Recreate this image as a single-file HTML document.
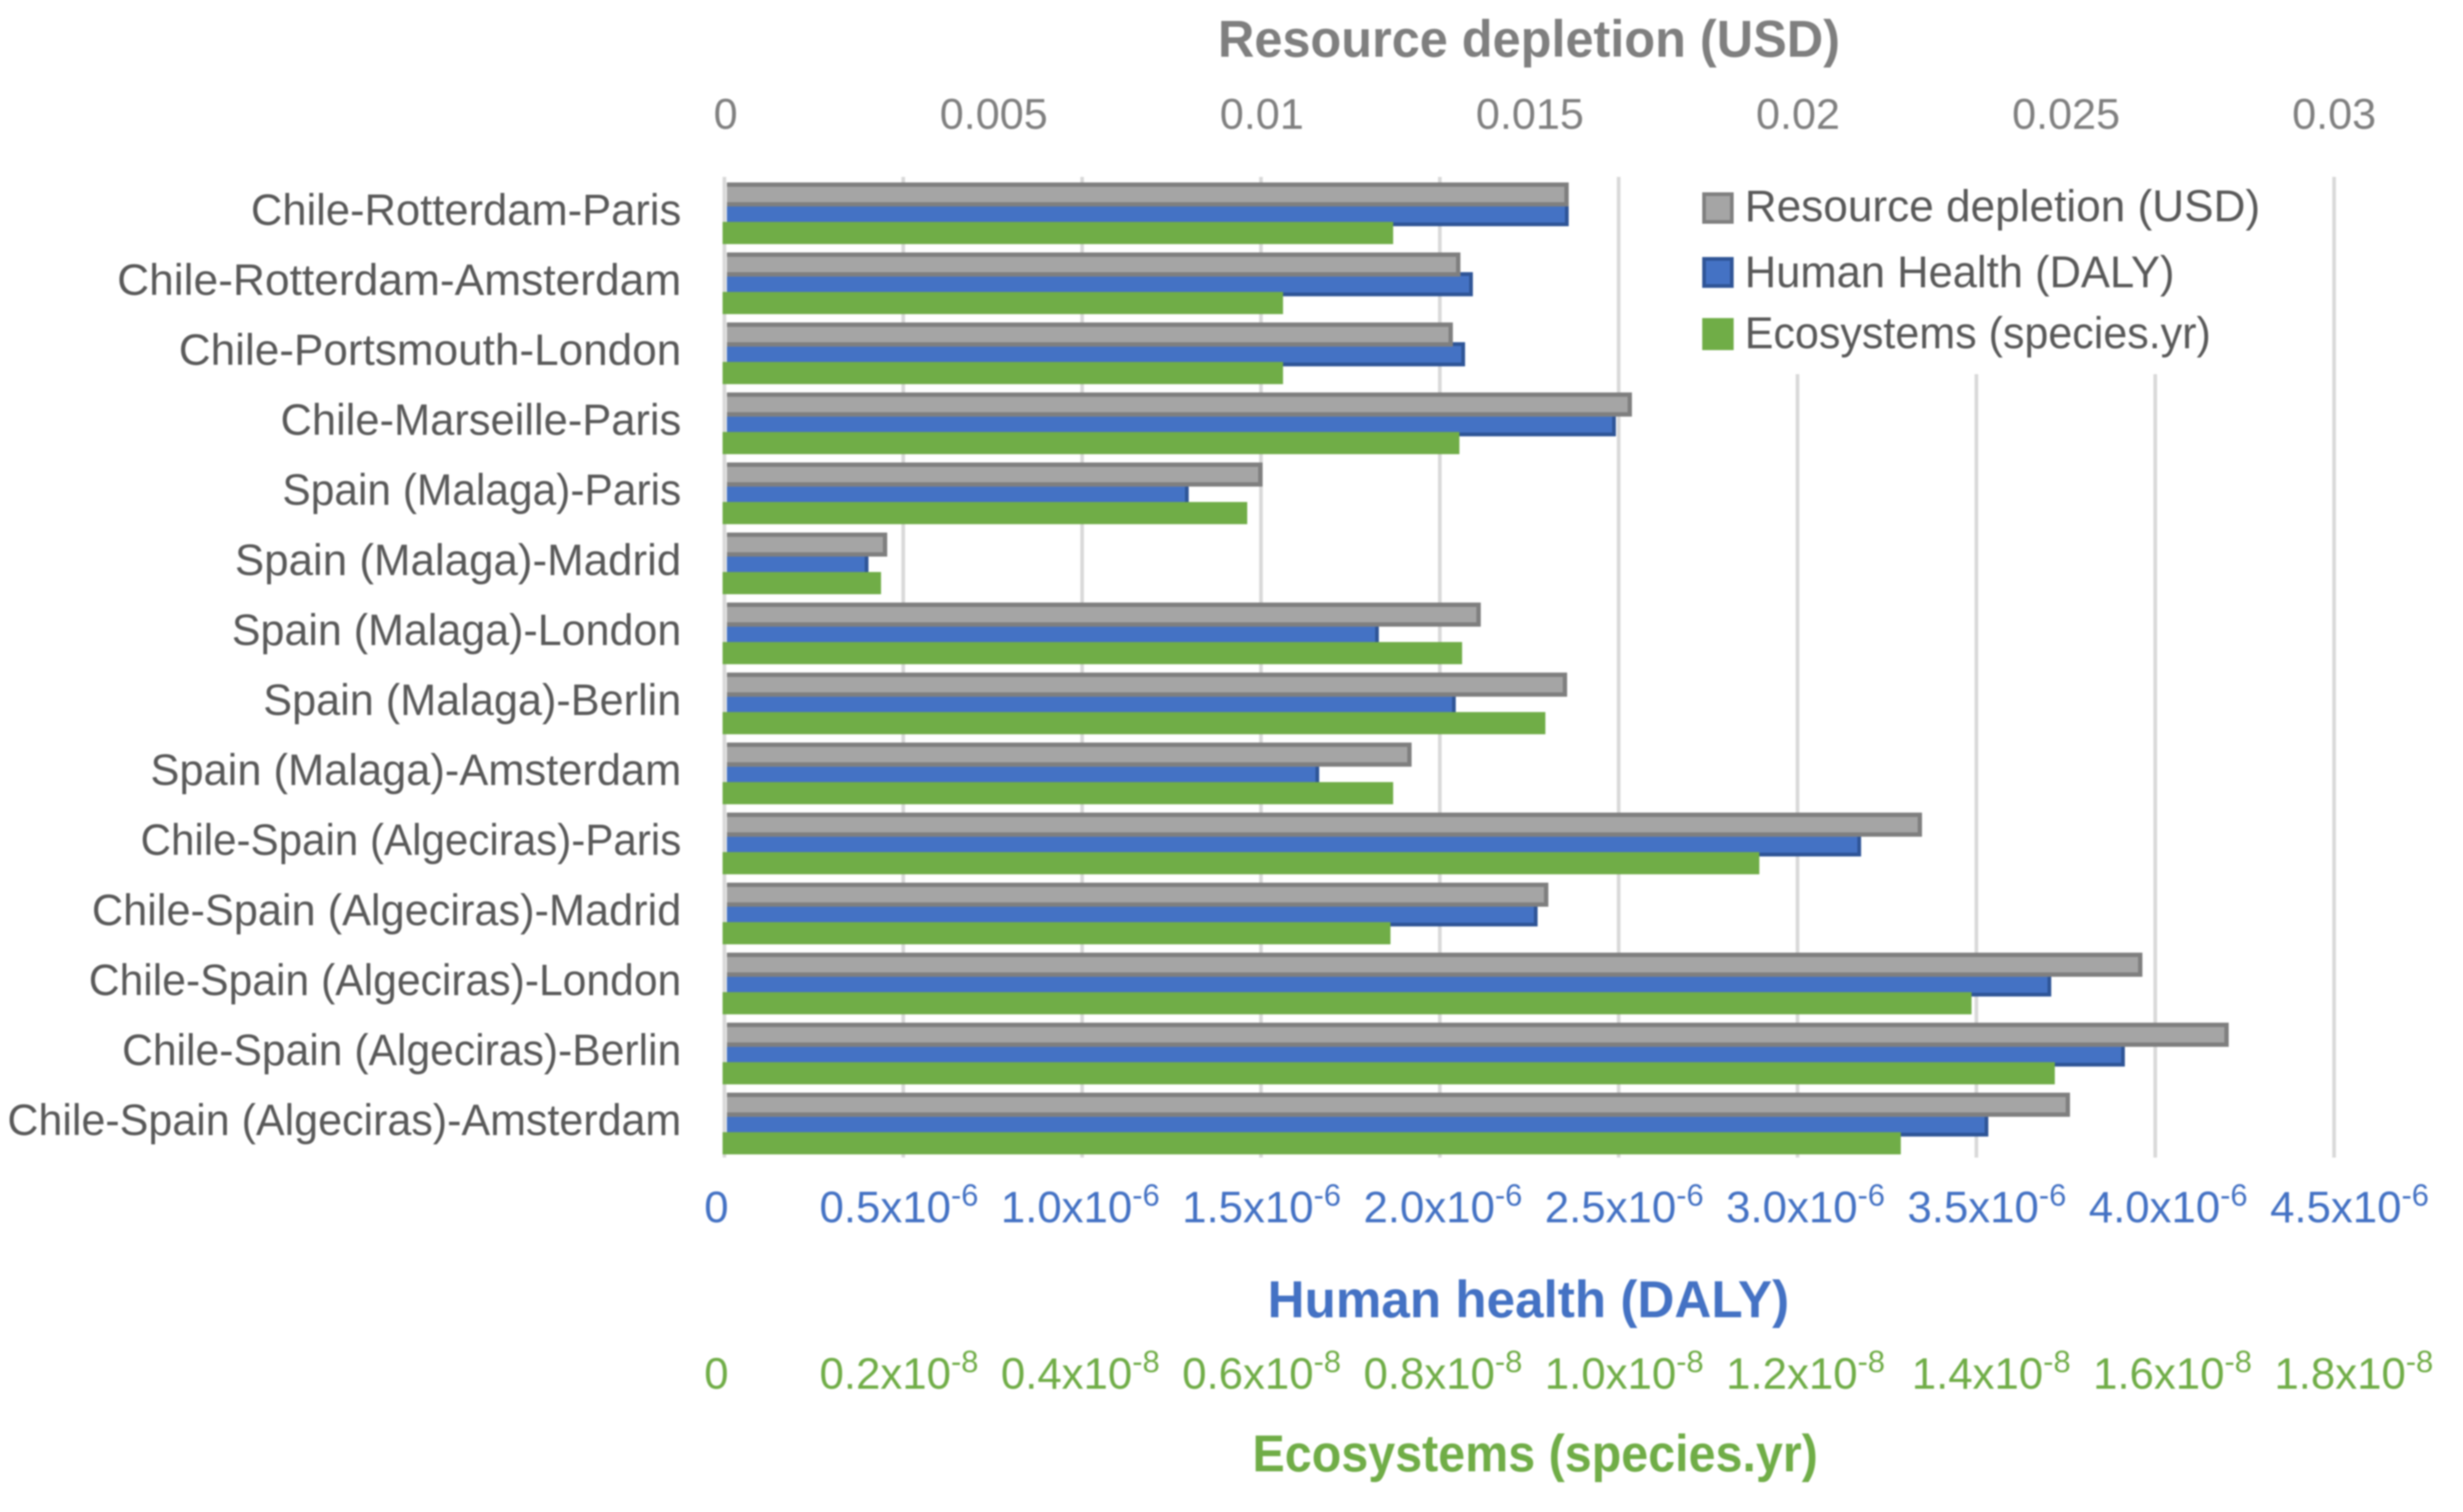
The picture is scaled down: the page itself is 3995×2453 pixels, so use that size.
<!DOCTYPE html>
<html lang="en">
<head>
<meta charset="utf-8">
<title>Resource depletion, human health and ecosystems by route</title>
<style>
  html, body { margin: 0; padding: 0; background: #ffffff; }
  body { width: 3995px; height: 2453px; overflow: hidden; }
  svg { display: block; font-family: "Liberation Sans", sans-serif; filter: blur(1.2px); }
</style>
</head>
<body>
<svg id="chart" xmlns="http://www.w3.org/2000/svg" width="3995" height="2453" viewBox="0 0 3995 2453">
  <rect x="0" y="0" width="3995" height="2453" fill="#ffffff"/>
  <g id="grid"></g>
  <g id="bars"></g>
  <g id="categories"></g>
  <g id="topTicks"></g>
  <g id="humanTicks"></g>
  <g id="ecoTicks"></g>

  <text x="2480" y="92" text-anchor="middle" font-size="84" font-weight="700" fill="#7f7f7f" textLength="1009" lengthAdjust="spacingAndGlyphs">Resource depletion (USD)</text>
  <text x="2479" y="2137" text-anchor="middle" font-size="84" font-weight="700" fill="#4472c4" textLength="846" lengthAdjust="spacingAndGlyphs">Human health (DALY)</text>
  <text x="2490" y="2387" text-anchor="middle" font-size="84" font-weight="700" fill="#70ad47" textLength="917" lengthAdjust="spacingAndGlyphs">Ecosystems (species.yr)</text>

  <g>
    <rect x="2640" y="280" width="1135" height="327" fill="#ffffff"/>
    <g>
      <rect x="2764" y="315" width="45" height="45" fill="#a5a5a5" stroke="#7f7f7f" stroke-width="6"/>
      <text x="2830" y="359" font-size="72" fill="#595959" textLength="836" lengthAdjust="spacingAndGlyphs">Resource depletion (USD)</text>
    </g>
    <g>
      <rect x="2764" y="420" width="45" height="44" fill="#4472c4" stroke="#2f5597" stroke-width="6"/>
      <text x="2830" y="466" font-size="72" fill="#595959" textLength="697" lengthAdjust="spacingAndGlyphs">Human Health (DALY)</text>
    </g>
    <g>
      <rect x="2761" y="516" width="51" height="52" fill="#70ad47"/>
      <text x="2830" y="565" font-size="72" fill="#595959" textLength="756" lengthAdjust="spacingAndGlyphs">Ecosystems (species.yr)</text>
    </g>
  </g>
</svg>
<script>
var categories = [
  "Chile-Rotterdam-Paris",
  "Chile-Rotterdam-Amsterdam",
  "Chile-Portsmouth-London",
  "Chile-Marseille-Paris",
  "Spain (Malaga)-Paris",
  "Spain (Malaga)-Madrid",
  "Spain (Malaga)-London",
  "Spain (Malaga)-Berlin",
  "Spain (Malaga)-Amsterdam",
  "Chile-Spain (Algeciras)-Paris",
  "Chile-Spain (Algeciras)-Madrid",
  "Chile-Spain (Algeciras)-London",
  "Chile-Spain (Algeciras)-Berlin",
  "Chile-Spain (Algeciras)-Amsterdam"
];
/* Resource depletion, USD */
var resourceValues = [0.01570, 0.01368, 0.01354, 0.01688, 0.00999, 0.00299, 0.01406, 0.01567, 0.01277, 0.02229, 0.01532, 0.02640, 0.02801, 0.02505];
/* Human health, units of 1e-6 DALY */
var humanValues = [2.355, 2.087, 2.065, 2.487, 1.292, 0.396, 1.824, 2.039, 1.657, 3.173, 2.268, 3.705, 3.911, 3.529];
/* Ecosystems, units of 1e-8 species.yr */
var ecoValues = [0.749, 0.626, 0.626, 0.823, 0.586, 0.177, 0.826, 0.919, 0.749, 1.158, 0.746, 1.395, 1.488, 1.316];

var resourceTickLabels = ["0", "0.005", "0.01", "0.015", "0.02", "0.025", "0.03"];
var humanTickLabels = ["0", "0.5x10", "1.0x10", "1.5x10", "2.0x10", "2.5x10", "3.0x10", "3.5x10", "4.0x10", "4.5x10"];
var ecoTickLabels = ["0", "0.2x10", "0.4x10", "0.6x10", "0.8x10", "1.0x10", "1.2x10", "1.4x10", "1.6x10", "1.8x10"];

var SVG_NS = "http://www.w3.org/2000/svg";
var RESOURCE_MAX = 0.03, HUMAN_MAX = 4.5, ECO_MAX = 1.8;
var AXIS_RIGHT = 3786, AXIS_LEFT = 1177, ECO_LEFT = 1172, BAR_START = 1179;
var PLOT_TOP = 287, BAND = 113.6;

function xResource(v) { return AXIS_LEFT + v / RESOURCE_MAX * (AXIS_RIGHT - AXIS_LEFT); }
function xHuman(v) { return AXIS_LEFT + v / HUMAN_MAX * (AXIS_RIGHT - AXIS_LEFT); }
function xEco(v) { return ECO_LEFT + v / ECO_MAX * (AXIS_RIGHT - ECO_LEFT); }
function yBand(i) { return PLOT_TOP + i * BAND; }

function node(parent, tag, props) {
  var el = document.createElementNS(SVG_NS, tag);
  for (var k in props) { el.setAttribute(k, props[k]); }
  parent.appendChild(el);
  return el;
}

var gridGroup = document.getElementById("grid");
humanTickLabels.forEach(function (label, i) {
  var gx = 1175 + i * 290.1;
  var line = node(gridGroup, "line", { x1: gx, x2: gx, y1: PLOT_TOP, y2: 1878, stroke: "#d9d9d9", "stroke-width": 6 });
  
  
});

var barsGroup = document.getElementById("bars");

/* Open-ended outline: top, right and bottom edges only, matching the reference's borderless left side. */
function edgePath(end, top, height, sw) {
  var inset = sw / 2;
  return "M" + BAR_START + "," + (top + inset) + " H" + (end - inset) + " V" + (top + height - inset) + " H" + BAR_START;
}

humanValues.forEach(function (v, i) {
  var end = xHuman(v) + 2;
  var top = yBand(i) + 41;
  var r = node(barsGroup, "rect", { x: BAR_START, y: top, width: Math.max(0, end - BAR_START), height: 39, fill: "#4472c4" });
  
  
  var edge = node(barsGroup, "path", { d: edgePath(end, top, 39, 6), fill: "none", stroke: "#2f5597", "stroke-width": 6 });
  
  
});

resourceValues.forEach(function (v, i) {
  var end = xResource(v) + 2;
  var top = yBand(i) + 9;
  var r = node(barsGroup, "rect", { x: BAR_START, y: top, width: Math.max(0, end - BAR_START), height: 39, fill: "#a5a5a5" });
  
  
  var edge = node(barsGroup, "path", { d: edgePath(end, top, 39, 7), fill: "none", stroke: "#7f7f7f", "stroke-width": 7 });
  
  
});

ecoValues.forEach(function (v, i) {
  var end = xEco(v);
  var r = node(barsGroup, "rect", { x: ECO_LEFT, y: yBand(i) + 73, width: Math.max(0, end - ECO_LEFT), height: 36, fill: "#70ad47" });
  
  
});

/* Rendered width of each category label, keyed by name so the narrower source typeface is matched. */
var categoryLabelFit = {
  "Chile-Rotterdam-Paris": 698,
  "Chile-Rotterdam-Amsterdam": 915,
  "Chile-Portsmouth-London": 815,
  "Chile-Marseille-Paris": 650,
  "Spain (Malaga)-Paris": 647,
  "Spain (Malaga)-Madrid": 724,
  "Spain (Malaga)-London": 729,
  "Spain (Malaga)-Berlin": 678,
  "Spain (Malaga)-Amsterdam": 861,
  "Chile-Spain (Algeciras)-Paris": 877,
  "Chile-Spain (Algeciras)-Madrid": 956,
  "Chile-Spain (Algeciras)-London": 961,
  "Chile-Spain (Algeciras)-Berlin": 907,
  "Chile-Spain (Algeciras)-Amsterdam": 1093
};

var catGroup = document.getElementById("categories");
categories.forEach(function (name, i) {
  var t = node(catGroup, "text", { x: 1105, y: yBand(i) + BAND / 2 + 21, "text-anchor": "end", "font-size": 71, fill: "#595959" });
  t.textContent = name;
  if (categoryLabelFit[name]) {
    t.setAttribute("textLength", categoryLabelFit[name]);
    t.setAttribute("lengthAdjust", "spacingAndGlyphs");
  }
  
  
});

var topGroup = document.getElementById("topTicks");
resourceTickLabels.forEach(function (label, i) {
  var t = node(topGroup, "text", { x: AXIS_LEFT + i * (AXIS_RIGHT - AXIS_LEFT) / (resourceTickLabels.length - 1), y: 209, "text-anchor": "middle", "font-size": 70, fill: "#808080" });
  t.textContent = label;
  
  
});

function powerTick(parent, label, exponent, x, y, colour) {
  var t = node(parent, "text", { x: x, y: y, "text-anchor": "middle", "font-size": 71, fill: colour });
  var main = node(t, "tspan", {});
  main.textContent = label;
  if (label !== "0") {
    var sup = node(t, "tspan", { dy: -27, "font-size": 50 });
    sup.textContent = exponent;
  }
  return t;
}

var humanGroup = document.getElementById("humanTicks");
humanTickLabels.forEach(function (label, i) {
  var t = powerTick(humanGroup, label, "-6", (i === 0 ? 1162 : 1164) + i * 294.1, 1983, "#4472c4");
  
  
});

var ecoGroup = document.getElementById("ecoTicks");
ecoTickLabels.forEach(function (label, i) {
  var shift = i === 0 ? 0 : (i >= 7 ? 9 : 2);
  var t = powerTick(ecoGroup, label, "-8", 1162 + shift + i * 294.1, 2253, "#70ad47");
  
  
});
</script>
</body>
</html>
